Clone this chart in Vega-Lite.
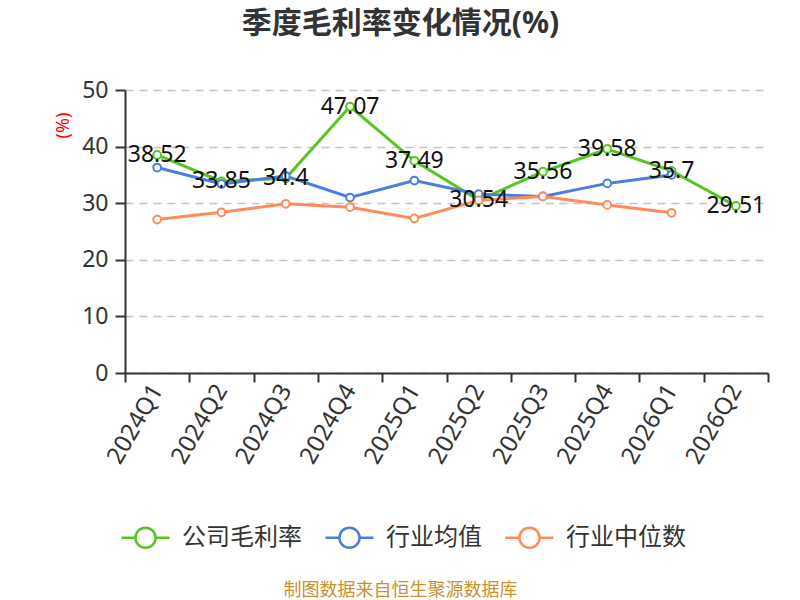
{
  "$schema": "https://vega.github.io/schema/vega-lite/v6.json",
  "autosize": {"type": "none"},
  "width": 643,
  "height": 283,
  "padding": {"left": 125, "top": 90, "right": 32, "bottom": 227},
  "background": "white",
  "title": {
    "text": "季度毛利率变化情况(%)",
    "anchor": "middle",
    "dx": -46,
    "offset": 40,
    "fontSize": 30,
    "fontWeight": "bold",
    "color": "#333333",
    "font": "Noto Sans, Noto Sans CJK SC"
  },
  "config": {
    "font": "Noto Sans, Noto Sans CJK SC",
    "view": {"stroke": null},
    "axis": {
      "labelFont": "Noto Sans, Noto Sans CJK SC",
      "labelFontSize": 23,
      "labelColor": "#333333",
      "domainColor": "#333333",
      "domainWidth": 2,
      "tickColor": "#333333",
      "tickWidth": 2
    }
  },
  "data": {
    "values": [
      {"q": "2024Q1", "s": "公司毛利率", "v": 38.52},
      {"q": "2024Q2", "s": "公司毛利率", "v": 33.85},
      {"q": "2024Q3", "s": "公司毛利率", "v": 34.4},
      {"q": "2024Q4", "s": "公司毛利率", "v": 47.07},
      {"q": "2025Q1", "s": "公司毛利率", "v": 37.49},
      {"q": "2025Q2", "s": "公司毛利率", "v": 30.54},
      {"q": "2025Q3", "s": "公司毛利率", "v": 35.56},
      {"q": "2025Q4", "s": "公司毛利率", "v": 39.58},
      {"q": "2026Q1", "s": "公司毛利率", "v": 35.7},
      {"q": "2026Q2", "s": "公司毛利率", "v": 29.51},
      {"q": "2024Q1", "s": "行业均值", "v": 36.3},
      {"q": "2024Q2", "s": "行业均值", "v": 33.4},
      {"q": "2024Q3", "s": "行业均值", "v": 34.8},
      {"q": "2024Q4", "s": "行业均值", "v": 31.0},
      {"q": "2025Q1", "s": "行业均值", "v": 34.0},
      {"q": "2025Q2", "s": "行业均值", "v": 31.6},
      {"q": "2025Q3", "s": "行业均值", "v": 31.2},
      {"q": "2025Q4", "s": "行业均值", "v": 33.5},
      {"q": "2026Q1", "s": "行业均值", "v": 35.0},
      {"q": "2024Q1", "s": "行业中位数", "v": 27.1},
      {"q": "2024Q2", "s": "行业中位数", "v": 28.4},
      {"q": "2024Q3", "s": "行业中位数", "v": 29.9},
      {"q": "2024Q4", "s": "行业中位数", "v": 29.3},
      {"q": "2025Q1", "s": "行业中位数", "v": 27.3},
      {"q": "2025Q2", "s": "行业中位数", "v": 30.5},
      {"q": "2025Q3", "s": "行业中位数", "v": 31.2},
      {"q": "2025Q4", "s": "行业中位数", "v": 29.7},
      {"q": "2026Q1", "s": "行业中位数", "v": 28.3}
    ]
  },
  "encoding": {
    "x": {
      "field": "q",
      "type": "ordinal",
      "sort": null,
      "scale": {"paddingInner": 0, "paddingOuter": 0},
      "axis": {
        "title": "制图数据来自恒生聚源数据库",
        "titleX": 275,
        "titleY": 217,
        "titleAlign": "center",
        "titleBaseline": "middle",
        "titleColor": "#c8922e",
        "titleFontSize": 18,
        "titleFontWeight": "normal",
        "titleFont": "Noto Sans CJK SC",
        "labelAngle": -60,
        "labelFontSize": 24,
        "tickBand": "extent",
        "tickSize": 9,
        "labelPadding": 4,
        "grid": false
      }
    },
    "y": {
      "field": "v",
      "type": "quantitative",
      "scale": {"domain": [0, 50], "nice": false},
      "axis": {
        "values": [0, 10, 20, 30, 40, 50],
        "title": "(%)",
        "titleX": -62,
        "titleY": 35,
        "titleAngle": -90,
        "titleAlign": "center",
        "titleBaseline": "middle",
        "titleColor": "#ff0000",
        "titleFontSize": 18,
        "titleFontWeight": "normal",
        "tickSize": 10,
        "labelPadding": 7,
        "grid": true,
        "gridDash": [8, 6],
        "gridColor": "#c4c4c4",
        "gridWidth": 1.5
      }
    }
  },
  "layer": [
    {
      "mark": {
        "type": "line",
        "strokeWidth": 3,
        "point": {"filled": false, "fill": "white", "size": 60, "strokeWidth": 2}
      },
      "encoding": {
        "color": {
          "field": "s",
          "type": "nominal",
          "sort": null,
          "scale": {
            "domain": ["公司毛利率", "行业均值", "行业中位数"],
            "range": ["#57c51f", "#4a7fe0", "#ff8b5a"]
          },
          "legend": {
            "title": null,
            "orient": "none",
            "direction": "horizontal",
            "legendX": -5,
            "legendY": 422,
            "symbolType": "M-1,0L-0.42,0M0.42,0L1,0M-0.42,0A0.42,0.42 0 1,1 0.42,0A0.42,0.42 0 1,1 -0.42,0Z",
            "symbolSize": 2304,
            "symbolStrokeWidth": 2.5,
            "symbolFillColor": "white",
            "labelFontSize": 24,
            "labelColor": "#333333",
            "labelFont": "Noto Sans CJK SC",
            "labelOffset": 11,
            "columnPadding": 18
          }
        }
      }
    },
    {
      "transform": [{"filter": "datum.s === '公司毛利率'"}],
      "mark": {"type": "text", "fontSize": 23, "color": "#111111", "baseline": "middle", "align": "center"},
      "encoding": {
        "text": {"field": "v", "type": "nominal"}
      }
    }
  ]
}
